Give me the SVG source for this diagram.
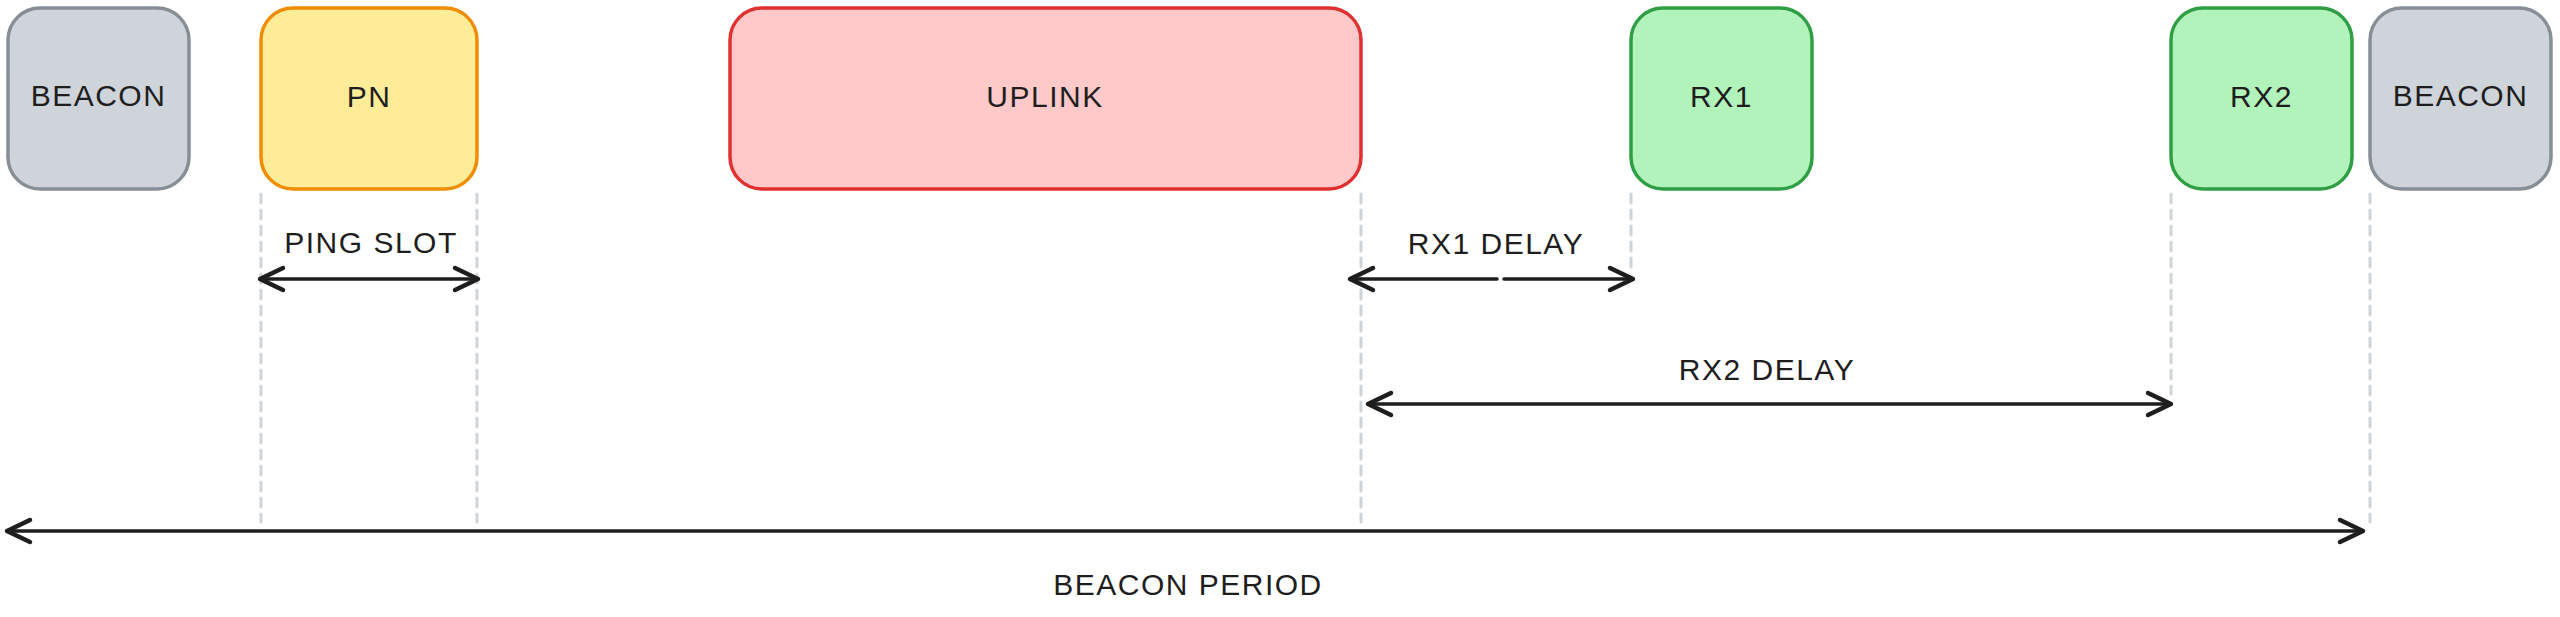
<svg xmlns="http://www.w3.org/2000/svg" width="2560" height="617" viewBox="0 0 2560 617">
<defs>
<style>
.box{stroke-width:3.5}
.beacon{fill:#ced4da;stroke:#868e96}
.pn{fill:#ffec99;stroke:#f08c00}
.up{fill:#ffc9c9;stroke:#e03131}
.rx{fill:#b2f2bb;stroke:#2f9e44}
.lbl{font-family:"Liberation Sans",Arial,sans-serif;font-size:30px;fill:#1e1e1e;text-anchor:middle;letter-spacing:1.5px}
.guide{stroke:#ced4da;stroke-width:3;stroke-dasharray:9 7;stroke-linecap:round;fill:none}
.arr{stroke:#1e1e1e;stroke-width:3.5;fill:none;stroke-linecap:round}
</style>
<marker id="head" markerUnits="userSpaceOnUse" viewBox="-30 -16 34 32" refX="0" refY="0" markerWidth="34" markerHeight="32" orient="auto-start-reverse">
<path d="M-23,-11 L0,0 L-23,11" fill="none" stroke="#1e1e1e" stroke-width="4.5" stroke-linecap="round" stroke-linejoin="round"/>
</marker>
</defs>
<rect width="2560" height="617" fill="#ffffff"/>
<g id="guides">
<line class="guide" x1="261" y1="194" x2="261" y2="522"/>
<line class="guide" x1="477" y1="194" x2="477" y2="522"/>
<line class="guide" x1="1361" y1="194" x2="1361" y2="522"/>
<line class="guide" x1="1631" y1="194" x2="1631" y2="268"/>
<line class="guide" x1="2171" y1="194" x2="2171" y2="394"/>
<line class="guide" x1="2370" y1="194" x2="2370" y2="522"/>
</g>
<g id="beacon-left">
<rect class="box beacon" x="8" y="8" width="181" height="181" rx="32"/>
<text class="lbl" x="98.5" y="106">BEACON</text>
</g>
<g id="pn">
<rect class="box pn" x="261" y="8" width="216" height="181" rx="32"/>
<text class="lbl" x="369" y="107">PN</text>
</g>
<g id="uplink">
<rect class="box up" x="730" y="8" width="631" height="181" rx="32"/>
<text class="lbl" x="1045" y="107">UPLINK</text>
</g>
<g id="rx1">
<rect class="box rx" x="1631" y="8" width="181" height="181" rx="32"/>
<text class="lbl" x="1721.5" y="107">RX1</text>
</g>
<g id="rx2">
<rect class="box rx" x="2171" y="8" width="181" height="181" rx="32"/>
<text class="lbl" x="2261.5" y="107">RX2</text>
</g>
<g id="beacon-right">
<rect class="box beacon" x="2370" y="8" width="181" height="181" rx="32"/>
<text class="lbl" x="2460.5" y="106">BEACON</text>
</g>
<g id="connectors">
<line class="arr" x1="260" y1="279" x2="478" y2="279" marker-start="url(#head)" marker-end="url(#head)"/>
<text class="lbl" x="371" y="253">PING SLOT</text>
<line class="arr" x1="1350" y1="279" x2="1497" y2="279" marker-start="url(#head)"/>
<line class="arr" x1="1504" y1="279" x2="1633" y2="279" marker-end="url(#head)"/>
<text class="lbl" x="1496" y="254">RX1 DELAY</text>
<line class="arr" x1="1368" y1="404" x2="2171" y2="404" marker-start="url(#head)" marker-end="url(#head)"/>
<text class="lbl" x="1767" y="380">RX2 DELAY</text>
<line class="arr" x1="7" y1="531" x2="2363" y2="531" marker-start="url(#head)" marker-end="url(#head)"/>
<text class="lbl" x="1188" y="595">BEACON PERIOD</text>
</g>
</svg>
